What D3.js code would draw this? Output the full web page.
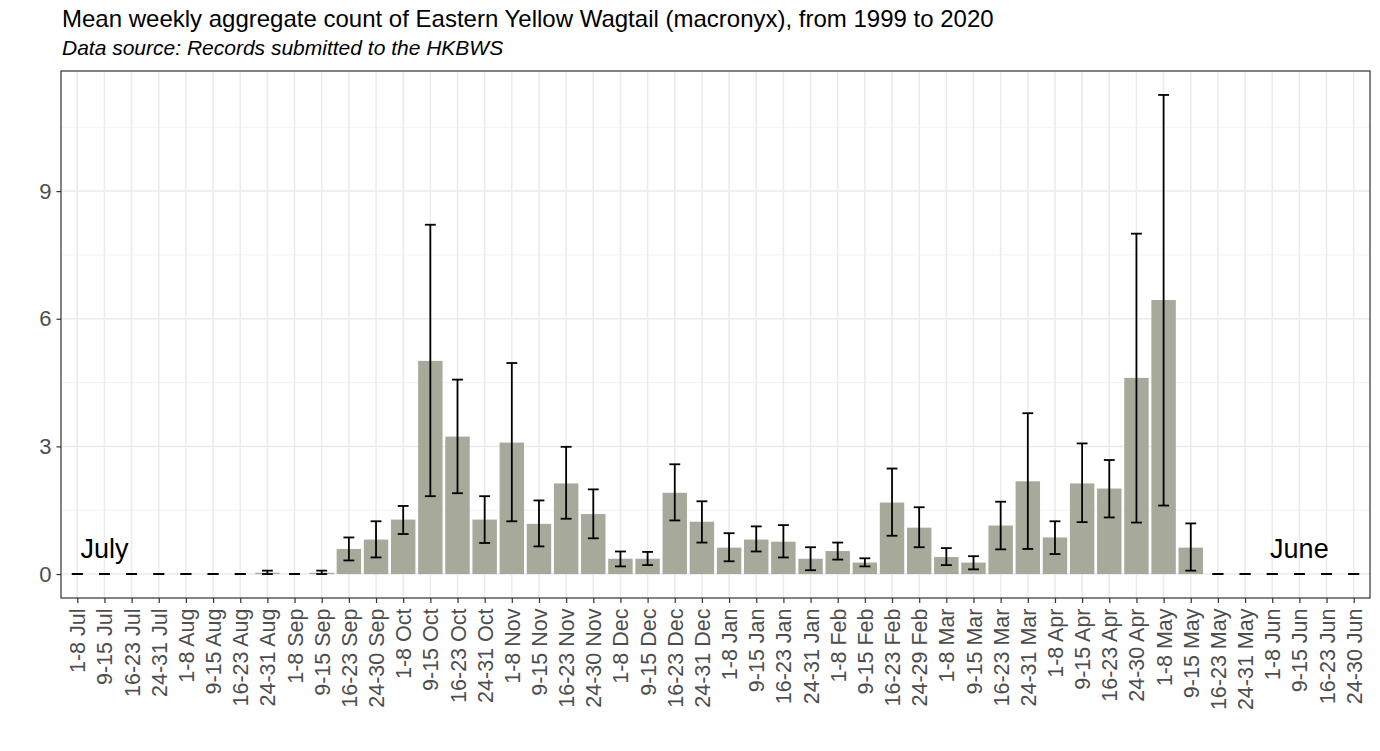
<!DOCTYPE html>
<html>
<head>
<meta charset="utf-8">
<script src="https://cdn.jsdelivr.net/npm/d3@7"></script>
<style>
	body { margin: 0; background: #fff; }
	svg { display: block; font-family: "Liberation Sans", Arial, sans-serif; }
</style>
</head>
<body>
<div id="chart"></div>
<script>

/**
 * Data
 */
const weeks = [
	"1-8 Jul", "9-15 Jul", "16-23 Jul", "24-31 Jul", "1-8 Aug", "9-15 Aug", "16-23 Aug", "24-31 Aug",
	"1-8 Sep", "9-15 Sep", "16-23 Sep", "24-30 Sep", "1-8 Oct", "9-15 Oct", "16-23 Oct", "24-31 Oct",
	"1-8 Nov", "9-15 Nov", "16-23 Nov", "24-30 Nov", "1-8 Dec", "9-15 Dec", "16-23 Dec", "24-31 Dec",
	"1-8 Jan", "9-15 Jan", "16-23 Jan", "24-31 Jan", "1-8 Feb", "9-15 Feb", "16-23 Feb", "24-29 Feb",
	"1-8 Mar", "9-15 Mar", "16-23 Mar", "24-31 Mar", "1-8 Apr", "9-15 Apr", "16-23 Apr", "24-30 Apr",
	"1-8 May", "9-15 May", "16-23 May", "24-31 May", "1-8 Jun", "9-15 Jun", "16-23 Jun", "24-30 Jun"
];

const meanCount = [
	0, 0, 0, 0, 0, 0, 0, 0.03, 0, 0.03,
	0.59, 0.81, 1.28, 5.01, 3.23, 1.28, 3.09, 1.18, 2.13, 1.41,
	0.36, 0.36, 1.91, 1.23, 0.62, 0.81, 0.76, 0.36, 0.54, 0.27,
	1.68, 1.09, 0.40, 0.27, 1.14, 2.18, 0.86, 2.13, 2.01, 4.61,
	6.44, 0.62, 0, 0, 0, 0, 0, 0
];

const upperCount = [
	0, 0, 0, 0, 0, 0, 0, 0.08, 0, 0.08,
	0.86, 1.24, 1.60, 8.21, 4.57, 1.83, 4.96, 1.73, 2.99, 1.99,
	0.53, 0.52, 2.58, 1.71, 0.96, 1.12, 1.15, 0.63, 0.74, 0.37,
	2.48, 1.57, 0.61, 0.42, 1.70, 3.78, 1.24, 3.07, 2.68, 8.00,
	11.26, 1.19, 0, 0, 0, 0, 0, 0
];

const lowerCount = [
	0, 0, 0, 0, 0, 0, 0, 0, 0, 0,
	0.32, 0.39, 0.94, 1.83, 1.90, 0.73, 1.24, 0.65, 1.30, 0.84,
	0.18, 0.21, 1.26, 0.74, 0.30, 0.53, 0.39, 0.09, 0.34, 0.18,
	0.90, 0.63, 0.21, 0.11, 0.58, 0.59, 0.47, 1.22, 1.33, 1.21,
	1.61, 0.08, 0, 0, 0, 0, 0, 0
];

const yTicks = [0, 3, 6, 9];
const yMinorTicks = [1.5, 4.5, 7.5, 10.5];

const monthNotes = [
	{ week: "9-15 Jul", label: "July" },
	{ week: "9-15 Jun", label: "June" }
];

const title = "Mean weekly aggregate count of Eastern Yellow Wagtail (macronyx), from 1999 to 2020";
const subtitle = "Data source: Records submitted to the HKBWS";

/**
 * Chart
 */
const width = 1380;
const height = 751;
const margin = { top: 71, right: 10, bottom: 153, left: 61 };
const barFill = "#a7a99a";

let data = weeks.map(function(w, i) {
	return { key: w, value: meanCount[i], lower: lowerCount[i], upper: upperCount[i] };
});

let svg = d3.select("#chart")
	.append("svg")
	.attr("width", width)
	.attr("height", height);

let x0 = margin.left;
let x1 = width - margin.right;
let y0 = height - margin.bottom;
let y1 = margin.top;

// Discrete x scale, ggplot style expansion of 0.6 of a step each side
let xScale = d3.scalePoint()
	.domain(weeks)
	.range([x0, x1])
	.padding(0.6);
let step = xScale.step();

// Continuous y scale with 5% expansion
let yMax = d3.max(data, function(d) { return Math.max(d.upper, d.value); });
let yPad = yMax * 0.05;
let yScale = d3.scaleLinear()
	.domain([-yPad, yMax + yPad])
	.range([y0, y1]);

// Titles
svg.append("text")
	.attr("x", 62)
	.attr("y", 27)
	.attr("font-size", 24)
	.attr("fill", "#000")
	.text(title);

svg.append("text")
	.attr("x", 62)
	.attr("y", 55)
	.attr("font-size", 21)
	.attr("font-style", "italic")
	.attr("fill", "#000")
	.text(subtitle);

// Grid
let grid = svg.append("g").attr("class", "grid");

grid.selectAll("line.minor")
	.data(yMinorTicks)
	.enter()
	.append("line")
	.attr("class", "minor")
	.attr("x1", x0).attr("x2", x1)
	.attr("y1", function(d) { return yScale(d); })
	.attr("y2", function(d) { return yScale(d); })
	.attr("stroke", "#f2f2f2")
	.attr("stroke-width", 1);

grid.selectAll("line.major-y")
	.data(yTicks)
	.enter()
	.append("line")
	.attr("class", "major-y")
	.attr("x1", x0).attr("x2", x1)
	.attr("y1", function(d) { return yScale(d); })
	.attr("y2", function(d) { return yScale(d); })
	.attr("stroke", "#ebebeb")
	.attr("stroke-width", 1.5);

grid.selectAll("line.major-x")
	.data(weeks)
	.enter()
	.append("line")
	.attr("class", "major-x")
	.attr("x1", function(d) { return xScale(d); })
	.attr("x2", function(d) { return xScale(d); })
	.attr("y1", y1).attr("y2", y0)
	.attr("stroke", "#ebebeb")
	.attr("stroke-width", 1.5);

// Bars
svg.append("g")
	.attr("class", "bars")
	.selectAll("rect")
	.data(data)
	.enter()
	.append("rect")
	.attr("x", function(d) { return xScale(d.key) - step * 0.45; })
	.attr("width", step * 0.9)
	.attr("y", function(d) { return yScale(d.value); })
	.attr("height", function(d) { return yScale(0) - yScale(d.value); })
	.attr("fill", barFill);

// Error bars
let capHalf = step * 0.2;
let errors = svg.append("g")
	.attr("class", "errors")
	.attr("stroke", "#000")
	.attr("stroke-width", 1.8)
	.selectAll("g")
	.data(data)
	.enter()
	.append("g");

errors.append("line")
	.attr("x1", function(d) { return xScale(d.key); })
	.attr("x2", function(d) { return xScale(d.key); })
	.attr("y1", function(d) { return yScale(d.lower); })
	.attr("y2", function(d) { return yScale(d.upper); });

errors.append("line")
	.attr("x1", function(d) { return xScale(d.key) - capHalf; })
	.attr("x2", function(d) { return xScale(d.key) + capHalf; })
	.attr("y1", function(d) { return yScale(d.upper); })
	.attr("y2", function(d) { return yScale(d.upper); });

errors.append("line")
	.attr("x1", function(d) { return xScale(d.key) - capHalf; })
	.attr("x2", function(d) { return xScale(d.key) + capHalf; })
	.attr("y1", function(d) { return yScale(d.lower); })
	.attr("y2", function(d) { return yScale(d.lower); });

// Month annotations
svg.append("g")
	.selectAll("text")
	.data(monthNotes)
	.enter()
	.append("text")
	.attr("x", function(d) { return xScale(d.week); })
	.attr("y", yScale(0.6))
	.attr("dy", "0.35em")
	.attr("text-anchor", "middle")
	.attr("font-size", 27)
	.attr("fill", "#000")
	.text(function(d) { return d.label; });

// Panel border
svg.append("rect")
	.attr("x", x0)
	.attr("y", y1)
	.attr("width", x1 - x0)
	.attr("height", y0 - y1)
	.attr("fill", "none")
	.attr("stroke", "#333")
	.attr("stroke-width", 1.2);

// Axes
let yAxis = svg.append("g")
	.attr("transform", "translate(" + x0 + ",0)")
	.call(d3.axisLeft(yScale).tickValues(yTicks).tickSize(4.5).tickPadding(5));

let xAxis = svg.append("g")
	.attr("transform", "translate(0," + y0 + ")")
	.call(d3.axisBottom(xScale).tickSize(5).tickPadding(0));

[yAxis, xAxis].forEach(function(axis) {
	axis.select(".domain").remove();
	axis.selectAll(".tick line").attr("stroke", "#333").attr("stroke-width", 1.2);
	axis.selectAll(".tick text")
		.attr("fill", "#4d4d4d")
		.attr("font-size", 21.5)
		.attr("font-family", "\"Liberation Sans\", Arial, sans-serif");
});

yAxis.selectAll(".tick text").attr("font-size", 22);

xAxis.selectAll(".tick text")
	.attr("y", 0)
	.attr("dy", "0.35em")
	.attr("text-anchor", "end")
	.attr("transform", "translate(0,10.5) rotate(-90)");

</script>
</body>
</html>
